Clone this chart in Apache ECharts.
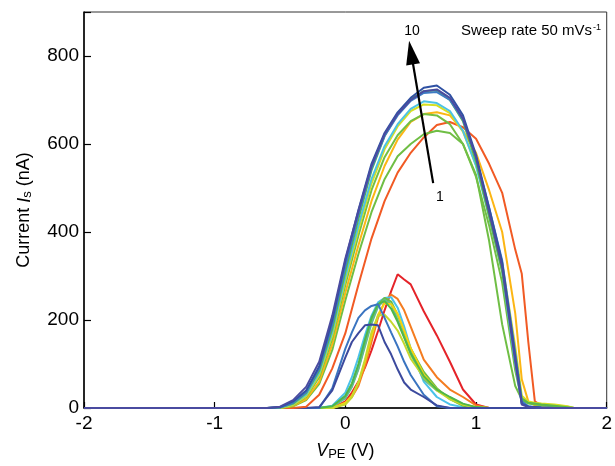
<!DOCTYPE html>
<html>
<head>
<meta charset="utf-8">
<script src="https://cdn.jsdelivr.net/npm/echarts/dist/echarts.min.js"></script>
<style>
html,body{margin:0;padding:0;background:#fff;}
#chart{width:615px;height:466px;}
</style>
</head>
<body>
<div id="chart"></div>
<script>
// ---- data ----
const xTicks = [-2, -1, 0, 1, 2];
const yTicks = [0, 200, 400, 600, 800];

// forward sweep potentials (V)
const FX = [-2, -0.6, -0.5, -0.4, -0.3, -0.2, -0.1, 0, 0.1, 0.2, 0.3, 0.4, 0.5, 0.6, 0.7, 0.8, 0.9, 1.0, 1.1, 1.2, 1.3, 1.35, 1.4, 1.45, 1.5, 1.6, 1.7, 1.75, 2];
// forward sweep currents (nA)
const F1  = [0,0,0,0,3,30,90,170,280,385,470,535,580,615,643,650,638,612,555,489,360,305,150,15,6,3,1,0,0];
const F2  = [0,0,0,4,18,55,132,245,350,445,520,572,600,622,630,625,600,530,380,190,50,20,12,10,8,6,3,0,0];
const F3  = [0,0,0,5,20,60,145,262,370,470,550,610,650,668,672,665,630,580,495,400,215,65,15,6,3,1,0,0,0];
const F4  = [0,0,0,6,25,70,158,280,392,495,570,620,652,668,665,645,600,525,415,285,85,18,10,8,6,4,0,0,0];
const F5  = [0,0,0,7,27,75,165,290,405,510,588,640,675,690,688,670,628,552,450,330,140,28,15,12,10,8,4,0,0];
const F6  = [0,0,1,9,30,80,172,298,415,520,595,645,680,697,693,675,630,550,435,310,100,10,4,2,1,0,0,0,0];
const F7  = [0,0,1,10,34,85,180,310,430,540,618,668,702,720,722,700,652,560,435,310,120,22,12,10,8,5,2,0,0];
const F8  = [0,0,1,12,36,90,190,322,440,545,618,665,698,716,718,700,655,570,455,335,125,15,4,2,1,0,0,0,0];
const F9  = [0,0,2,15,40,95,200,335,450,555,625,672,705,728,733,712,665,575,455,330,115,10,3,2,1,0,0,0,0];
const F10 = [0,0,3,18,48,105,210,340,448,550,622,668,700,720,724,705,658,570,445,320,105,8,2,1,0,0,0,0,0];

// reverse sweep potentials (V)
const RX = [-2, -0.3, -0.2, -0.1, 0, 0.05, 0.1, 0.15, 0.2, 0.25, 0.3, 0.35, 0.4, 0.45, 0.5, 0.6, 0.7, 0.8, 0.9, 1.0, 1.1, 2];
// reverse sweep currents (nA)
const R1  = [0,0,0,0,15,35,60,92,131,175,222,265,304,292,281,220,165,105,42,8,0,0];
const R2  = [0,0,0,0,10,25,50,95,150,205,242,258,248,222,185,110,70,42,25,6,0,0];
const R3  = [0,0,0,5,35,70,115,165,210,240,250,252,228,185,135,60,25,8,2,0,0,0];
const R4  = [0,0,0,3,25,50,90,145,200,235,250,242,212,172,135,82,45,20,5,0,0,0];
const R5  = [0,0,0,3,22,48,88,140,192,230,246,236,200,162,122,65,40,24,8,0,0,0];
const R6  = [0,0,0,0,12,28,58,105,162,212,238,236,214,176,136,76,42,22,8,2,0,0];
const R7  = [0,0,0,0,8,24,58,110,172,210,212,196,176,146,112,70,40,20,8,2,0,0];
const R8  = [0,0,0,4,28,56,100,155,205,236,243,226,196,160,125,72,42,25,10,2,0,0];
const R9  = [0,0,0,45,135,172,205,222,232,236,205,172,140,105,75,30,4,0,0,0,0,0];
const R10 = [0,0,2,40,115,150,170,188,190,188,150,122,88,58,42,25,6,0,0,0,0,0];

const forward = [F1, F2, F3, F4, F5, F6, F7, F8, F9, F10];
const reverse = [R1, R2, R3, R4, R5, R6, R7, R8, R9, R10];
const fColors = ['#f15a24','#6fbe44','#fcb614','#72bf44','#d7df23','#4cc3e4','#5cb947','#3d7bc4','#2f51a3','#4a4ba0'];
const rColors = ['#e52329','#f47c20','#4ac2ea','#6cbd45','#62bb8f','#f5d30f','#c5d82e','#4fb848','#3a74c0','#3c4a9e'];

// annotation arrow (cycle 1 -> 10), data coordinates
const arrowFrom = [0.672, 511];
const arrowTo = [0.503, 808];

const FONT = '"Liberation Sans", Arial, sans-serif';

const series = [];
reverse.forEach((arr, i) => {
  series.push({
    type: 'line', showSymbol: false, symbol: 'none', animation: false, silent: true,
    lineStyle: { color: rColors[i], width: 2 },
    data: RX.map((x, k) => [x, arr[k]])
  });
});
forward.forEach((arr, i) => {
  series.push({
    type: 'line', showSymbol: false, symbol: 'none', animation: false, silent: true,
    lineStyle: { color: fColors[i], width: 2 },
    data: FX.map((x, k) => [x, arr[k]])
  });
});
series.push({
  type: 'line', data: [], animation: false, silent: true,
  markLine: {
    silent: true, animation: false,
    symbol: ['none', 'triangle'], symbolSize: [14, 24],
    lineStyle: { color: '#000', width: 2.2, type: 'solid' },
    label: { show: false },
    data: [[{ coord: arrowFrom }, { coord: arrowTo }]]
  }
});

const chart = echarts.init(document.getElementById('chart'), null, { renderer: 'canvas' });
chart.setOption({
  animation: false,
  backgroundColor: '#fff',
  textStyle: { fontFamily: FONT },
  grid: { left: 84, right: 3, top: 12, bottom: 58, show: true, borderColor: '#333', borderWidth: 1, backgroundColor: 'transparent' },
  xAxis: {
    type: 'value', min: xTicks[0], max: xTicks[xTicks.length - 1], interval: 1,
    axisLine: { show: true, onZero: false, lineStyle: { color: '#000', width: 1.5 } },
    axisTick: { show: true, inside: true, length: 6, lineStyle: { color: '#000', width: 1.2 } },
    axisLabel: { fontSize: 19, color: '#000', margin: 6, fontFamily: FONT },
    splitLine: { show: false },
    name: '{v|V}{sub|PE} (V)',
    nameLocation: 'middle', nameGap: 33,
    nameTextStyle: {
      fontSize: 18, color: '#000', fontFamily: FONT,
      rich: {
        v: { fontSize: 18, fontStyle: 'italic', color: '#000', fontFamily: FONT },
        sub: { fontSize: 13, color: '#000', verticalAlign: 'bottom', fontFamily: FONT, padding: [7, 0, 0, 0] }
      }
    }
  },
  yAxis: {
    type: 'value', min: yTicks[0], max: 900, interval: 200,
    axisLine: { show: true, onZero: false, lineStyle: { color: '#000', width: 1.5 } },
    axisTick: { show: true, inside: true, length: 7, lineStyle: { color: '#000', width: 1.2 } },
    axisLabel: { fontSize: 19, color: '#000', margin: 5, fontFamily: FONT,
      formatter: v => (yTicks.indexOf(v) >= 0 ? String(v) : '') },
    splitLine: { show: false },
    name: 'Current {i|I}{sub|s} (nA)',
    nameLocation: 'middle', nameGap: 50, nameRotate: 90,
    nameTextStyle: {
      fontSize: 18, color: '#000', fontFamily: FONT,
      rich: {
        i: { fontSize: 18, fontStyle: 'italic', color: '#000', fontFamily: FONT },
        sub: { fontSize: 13, color: '#000', verticalAlign: 'bottom', fontFamily: FONT, padding: [6, 0, 0, 0] }
      }
    }
  },
  graphic: [
    { type: 'text', silent: true, style: { x: 601, y: 31, align: 'right', verticalAlign: 'middle',
        text: 'Sweep rate 50 mVs{sup|-1}', fontSize: 15, fill: '#000', fontFamily: FONT,
        rich: { sup: { fontSize: 9, verticalAlign: 'top', fill: '#000', fontFamily: FONT, padding: [0, 0, 6, 1] } } } },
    { type: 'text', silent: true, style: { x: 412, y: 31, align: 'center', verticalAlign: 'middle',
        text: '10', fontSize: 14, fill: '#000', fontFamily: FONT } },
    { type: 'text', silent: true, style: { x: 440, y: 197, align: 'center', verticalAlign: 'middle',
        text: '1', fontSize: 14, fill: '#000', fontFamily: FONT } }
  ],
  series: series
});
</script>
</body>
</html>
